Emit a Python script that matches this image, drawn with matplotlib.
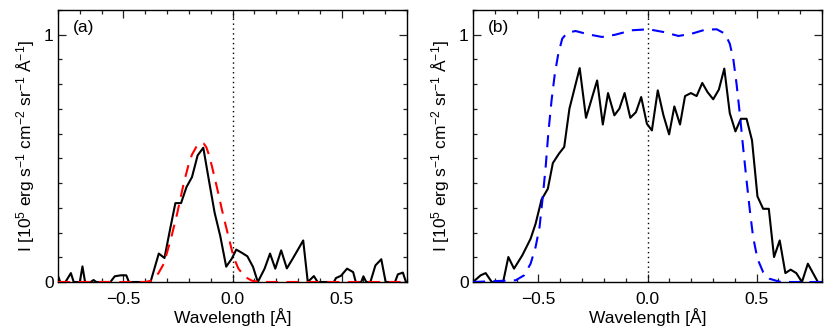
import matplotlib
matplotlib.use("Agg")
import matplotlib.pyplot as plt
from matplotlib.ticker import MultipleLocator, FixedLocator

plt.rcParams["font.family"] = ["Liberation Sans", "DejaVu Sans"]
plt.rcParams["mathtext.fontset"] = "custom"
plt.rcParams["mathtext.rm"] = "Liberation Sans"
plt.rcParams["mathtext.it"] = "Liberation Sans:italic"
plt.rcParams["mathtext.bf"] = "Liberation Sans:bold"

# panel (a): observed profile (black) and fitted profile (red dashed)
obs_a_wl = [-0.800, -0.790, -0.766, -0.741, -0.728, -0.700, -0.688, -0.676, -0.650,
            -0.637, -0.625, -0.560, -0.540, -0.513, -0.487, -0.475, -0.376, -0.338,
            -0.312, -0.287, -0.262, -0.236, -0.211, -0.186, -0.160, -0.134, -0.108,
            -0.082, -0.056, -0.029, -0.003, 0.017, 0.043, 0.068, 0.094, 0.116, 0.147,
            0.172, 0.196, 0.223, 0.249, 0.275, 0.300, 0.324, 0.345, 0.373, 0.390,
            0.465, 0.474, 0.497, 0.525, 0.553, 0.565, 0.590, 0.600, 0.613, 0.632,
            0.655, 0.682, 0.702, 0.745, 0.758, 0.781, 0.795, 0.800]
obs_a_int = [0.025, 0.0, 0.0, 0.036, 0.0, 0.0, 0.063, 0.0, 0.0,
             0.008, 0.0, 0.0, 0.023, 0.027, 0.027, 0.0, 0.0, 0.115,
             0.097, 0.210, 0.319, 0.319, 0.384, 0.424, 0.512, 0.543, 0.410,
             0.280, 0.185, 0.062, 0.095, 0.131, 0.118, 0.104, 0.061, 0.0, 0.054,
             0.115, 0.054, 0.128, 0.055, 0.093, 0.131, 0.168, 0.0, 0.024, 0.0,
             0.0, 0.016, 0.025, 0.054, 0.040, 0.0, 0.0, 0.023, 0.0, 0.0,
             0.067, 0.092, 0.0, 0.0, 0.031, 0.038, 0.0, 0.0]

fit_a_wl = [-0.800, -0.400, -0.375, -0.361, -0.340, -0.315, -0.284, -0.254, -0.224,
            -0.200, -0.186, -0.165, -0.145, -0.132, -0.120, -0.110, -0.095, -0.079,
            -0.063, -0.048, -0.033, -0.018, 0.005, 0.027, 0.058, 0.090, 0.120, 0.800]
fit_a_int = [0.0, 0.0, 0.005, 0.014, 0.035, 0.074, 0.169, 0.276, 0.398,
             0.480, 0.515, 0.548, 0.563, 0.560, 0.545, 0.519, 0.470, 0.411,
             0.350, 0.290, 0.235, 0.182, 0.100, 0.054, 0.020, 0.005, 0.0, 0.0]

# panel (b): observed profile (black) and model profile (blue dashed)
obs_b_wl = [-0.800, -0.765, -0.742, -0.714, -0.662, -0.638, -0.612, -0.574, -0.536,
            -0.513, -0.486, -0.457, -0.434, -0.406, -0.382, -0.358, -0.311, -0.282,
            -0.231, -0.205, -0.181, -0.152, -0.129, -0.105, -0.079, -0.053, -0.029,
            -0.003, 0.020, 0.047, 0.073, 0.099, 0.123, 0.149, 0.172, 0.199, 0.225,
            0.251, 0.275, 0.301, 0.327, 0.352, 0.377, 0.403, 0.428, 0.454, 0.479,
            0.504, 0.530, 0.556, 0.580, 0.606, 0.632, 0.656, 0.682, 0.708, 0.735,
            0.781, 0.800]
obs_b_int = [0.0, 0.027, 0.036, 0.0, 0.0, 0.101, 0.054, 0.108, 0.175,
             0.236, 0.333, 0.377, 0.481, 0.519, 0.546, 0.701, 0.865, 0.664,
             0.815, 0.637, 0.764, 0.674, 0.701, 0.764, 0.664, 0.687, 0.748,
             0.640, 0.613, 0.775, 0.674, 0.597, 0.710, 0.637, 0.752, 0.764, 0.752,
             0.805, 0.768, 0.739, 0.778, 0.863, 0.683, 0.609, 0.660, 0.660, 0.573,
             0.346, 0.296, 0.296, 0.101, 0.168, 0.036, 0.050, 0.036, 0.0, 0.074,
             0.0, 0.0]

model_b_wl = [-0.800, -0.604, -0.566, -0.536, -0.513, -0.495, -0.482, -0.467, -0.455,
              -0.440, -0.425, -0.409, -0.391, -0.368, -0.330, -0.269, -0.209, -0.148,
              -0.072, 0.005, 0.073, 0.142, 0.202, 0.263, 0.317, 0.355, 0.377, 0.393,
              0.408, 0.423, 0.438, 0.454, 0.469, 0.484, 0.504, 0.530, 0.560, 0.598,
              0.613, 0.800]
model_b_int = [0.0, 0.007, 0.027, 0.074, 0.142, 0.222, 0.330, 0.465, 0.600,
               0.734, 0.842, 0.923, 0.984, 1.008, 1.015, 1.001, 0.991, 1.000,
               1.018, 1.022, 1.011, 0.995, 1.004, 1.020, 1.022, 1.004, 0.964, 0.903,
               0.802, 0.681, 0.546, 0.411, 0.290, 0.182, 0.094, 0.040, 0.013, 0.003,
               0.0, 0.0]

YLABEL = "I [10$^5$ erg s$^{-1}$ cm$^{-2}$ sr$^{-1}$ \u00c5$^{-1}$]"
DASH = (0, (5.8, 4.0))
FS = 12.5


def style_axes(ax, tag):
    ax.set_xlim(-0.8, 0.8)
    ax.set_ylim(0, 1.1)
    ax.xaxis.set_major_locator(FixedLocator([-0.5, 0.0, 0.5]))
    ax.xaxis.set_minor_locator(MultipleLocator(0.1))
    ax.yaxis.set_major_locator(FixedLocator([0, 1]))
    ax.yaxis.set_minor_locator(MultipleLocator(0.1))
    ax.set_xticklabels(["\u22120.5", "0.0", "0.5"])
    ax.set_yticklabels(["0", "1"])
    ax.tick_params(which="both", direction="in", top=True, right=True,
                   labelsize=FS, width=0.9, color="#222222")
    ax.tick_params(which="major", length=6)
    ax.tick_params(which="minor", length=3)
    ax.tick_params(axis="x", which="major", pad=7)
    ax.tick_params(axis="y", which="major", pad=3)
    for sp in ax.spines.values():
        sp.set_linewidth(1.0)
    ax.set_xlabel("Wavelength [\u00c5]", fontsize=FS, labelpad=1)
    ax.set_ylabel(YLABEL, fontsize=FS, labelpad=5)
    ax.axvline(0, color="black", lw=1.0, ls=(0, (1, 2.5)))
    ax.text(0.043, 0.962, tag, transform=ax.transAxes, fontsize=FS,
            ha="left", va="top")


fig = plt.figure(figsize=(8.3, 3.32), dpi=100)
ax_a = fig.add_axes([0.0699, 0.1506, 0.4205, 0.8193])
ax_b = fig.add_axes([0.5699, 0.1506, 0.4205, 0.8193])

ax_a.plot(obs_a_wl, obs_a_int, color="black", lw=1.5, zorder=3)
ax_a.plot(fit_a_wl, fit_a_int, color="red", lw=1.5, ls=DASH, zorder=4)
style_axes(ax_a, "(a)")

ax_b.plot(obs_b_wl, obs_b_int, color="black", lw=1.5, zorder=3)
ax_b.plot(model_b_wl, model_b_int, color="blue", lw=1.5, ls=DASH, zorder=4)
style_axes(ax_b, "(b)")

fig.savefig("out.png", dpi=100)
